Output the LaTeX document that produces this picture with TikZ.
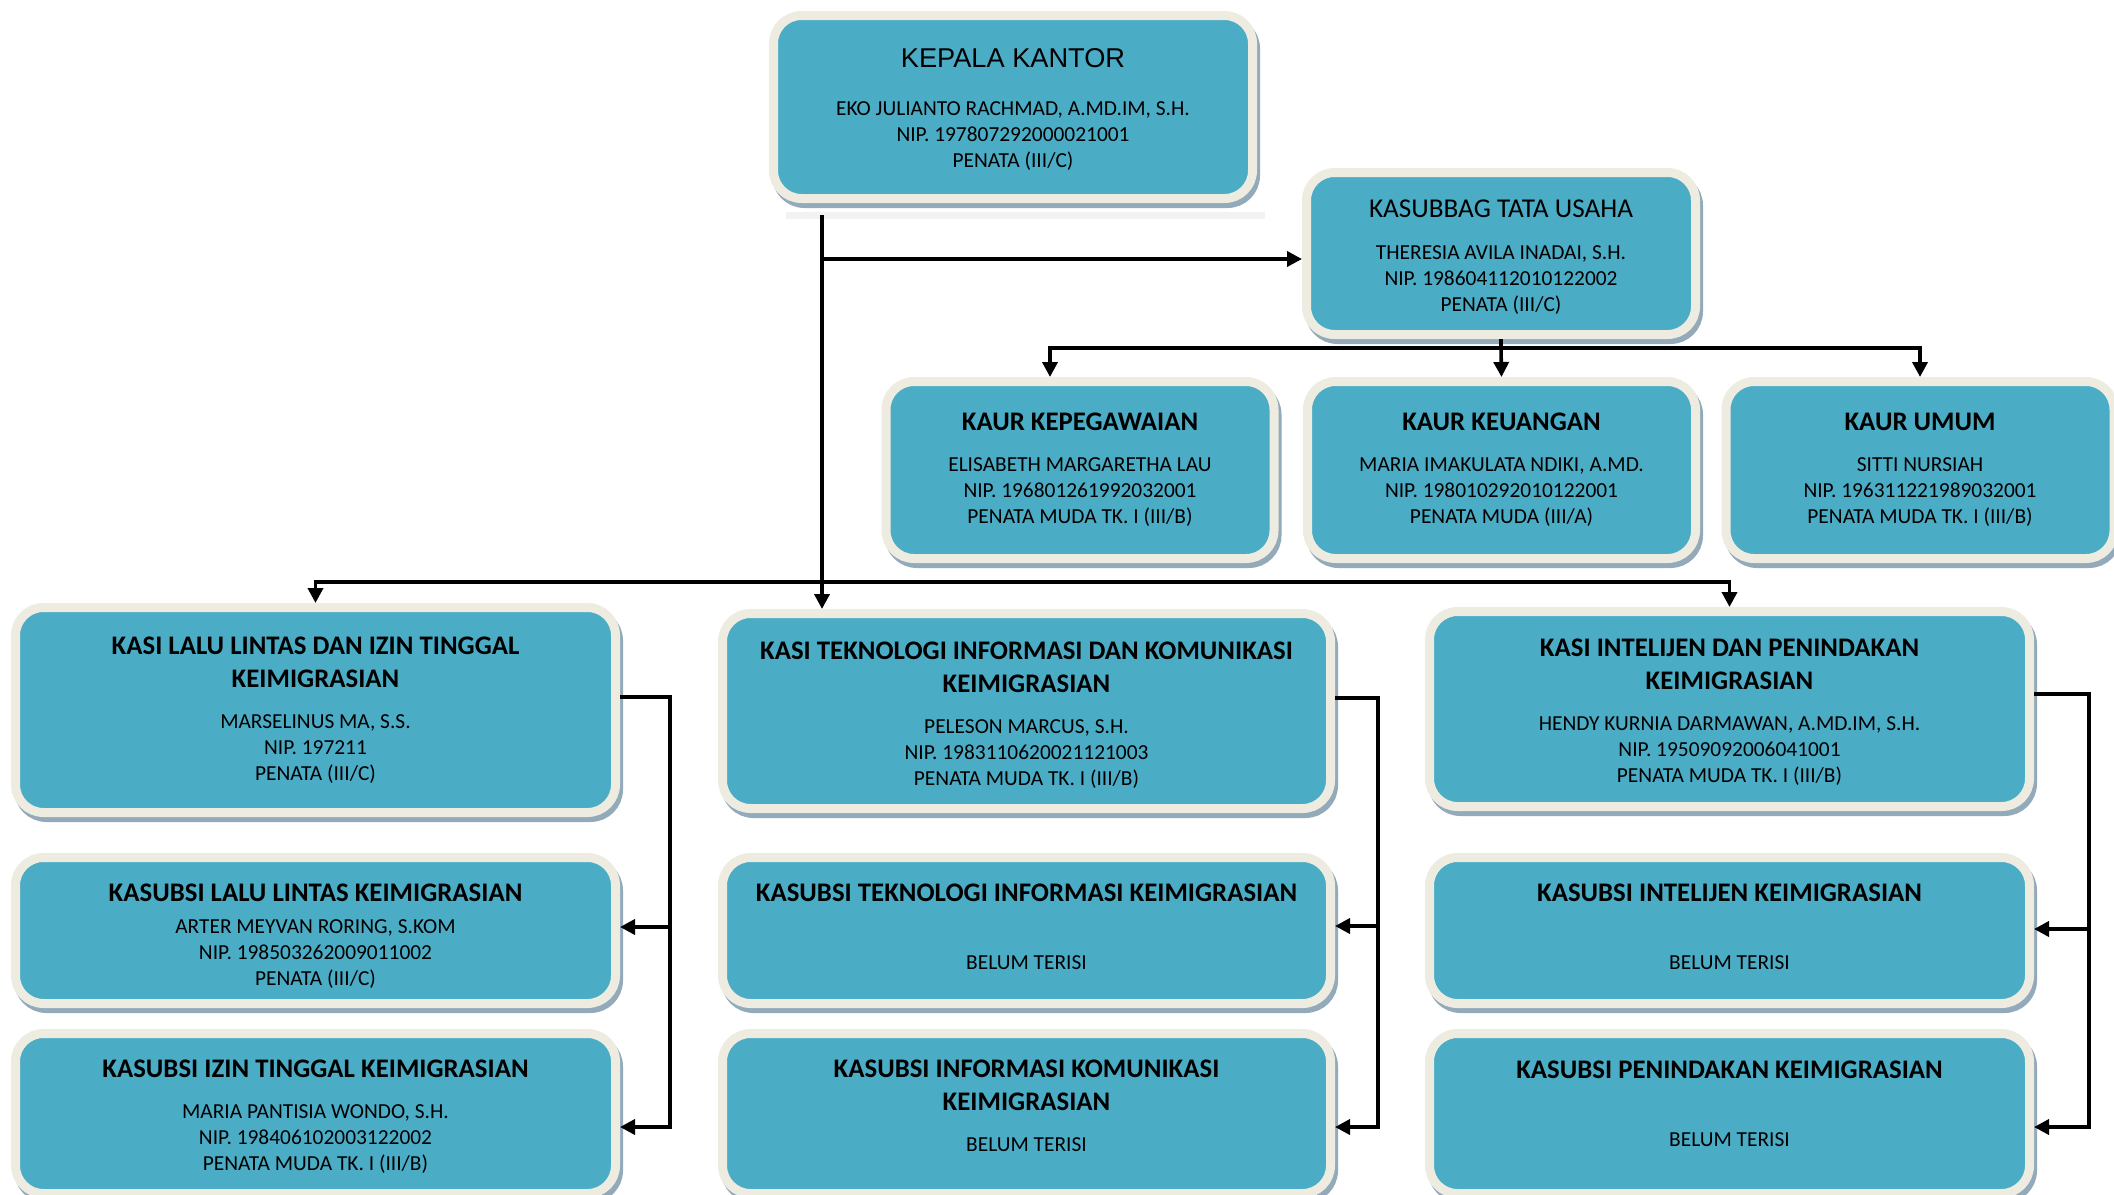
\documentclass[tikz,border=0pt]{standalone}
\usepackage{fontspec}
\setmainfont{Carlito}
\newfontfamily\headfont{Liberation Sans}
\usetikzlibrary{arrows.meta,shadows}

\definecolor{unitblue}{HTML}{4BACC6}
\definecolor{unitrim}{HTML}{EEECE1}
\definecolor{unitshade}{HTML}{93AABA}
\newcommand{\ttl}[1]{{\fontsize{13.4}{13}\selectfont\bfseries #1}}
\newcommand{\padtop}[1]{\rule{0pt}{#1}}
\newcommand{\padbot}[1]{\rule[-#1]{0pt}{#1}}

\begin{document}
\begin{tikzpicture}[x=0.5pt,y=-0.5pt]
\tikzset{unit/.style={draw=unitrim,fill=unitblue,line width=4.5pt,rounded corners=14pt,inner sep=0pt,align=center,
  font=\fontsize{10.7}{13}\selectfont,
  drop shadow={shadow xshift=1.5pt,shadow yshift=-2.5pt,opacity=1,fill=unitshade,draw=unitshade,line width=4.5pt}}}
\tikzset{kaur/.style={unit,minimum width=194pt,minimum height=88.5pt}}
\tikzset{kasi/.style={unit,minimum width=300pt,minimum height=#1}}
\tikzset{link/.style={line width=1.8pt,>={Triangle[length=7.5pt,width=7.5pt]}}}
\tikzset{ledge/.style={fill=black!5,inner sep=0pt,minimum width=239.5pt,minimum height=3.5pt}}

\useasboundingbox (0,0) rectangle (2114,1194);

\node[unit,minimum width=239.5pt,minimum height=91.5pt] (kepala) at (1013,107)
  {\padtop{12.2pt}{\headfont\fontsize{13.6}{13}\selectfont KEPALA KANTOR}\\[11pt]EKO JULIANTO RACHMAD, A.MD.IM, S.H.\\NIP. 197807292000021001\\PENATA (III/C)};
\node[ledge] (ledge) at (1025.5,215.5) {};
\node[unit,minimum width=194.5pt,minimum height=81pt] (tu) at (1501,253.5)
  {\padtop{12.8pt}{\fontsize{13.6}{13}\selectfont KASUBBAG TATA USAHA}\\[8pt]THERESIA AVILA INADAI, S.H.\\NIP. 198604112010122002\\PENATA (III/C)};

\node[kaur] (peg) at (1080,470)
  {\ttl{KAUR KEPEGAWAIAN}\\[7.5pt]ELISABETH MARGARETHA LAU\\NIP. 196801261992032001\\PENATA MUDA TK. I (III/B)};
\node[kaur] (keu) at (1501.5,470)
  {\ttl{KAUR KEUANGAN}\\[7.5pt]MARIA IMAKULATA NDIKI, A.MD.\\NIP. 198010292010122001\\PENATA MUDA (III/A)};
\node[kaur] (umum) at (1920,470)
  {\ttl{KAUR UMUM}\\[7.5pt]SITTI NURSIAH\\NIP. 196311221989032001\\PENATA MUDA TK. I (III/B)};

\node[kasi=102.5pt] (llit) at (315.5,710)
  {\ttl{KASI LALU LINTAS DAN IZIN TINGGAL}\\[3.5pt]\ttl{KEIMIGRASIAN}\\[7.5pt]MARSELINUS MA, S.S.\\NIP. 197211\\PENATA (III/C)};
\node[kasi=97.5pt,minimum width=304pt] (tik) at (1026.5,711)
  {\padtop{12.8pt}\ttl{KASI TEKNOLOGI INFORMASI DAN KOMUNIKASI}\\[3.5pt]\ttl{KEIMIGRASIAN}\\[7.5pt]PELESON MARCUS, S.H.\\NIP. 1983110620021121003\\PENATA MUDA TK. I (III/B)};
\node[kasi=97.5pt] (intel) at (1729.5,709)
  {\padtop{12.2pt}\ttl{KASI INTELIJEN DAN PENINDAKAN}\\[3.5pt]\ttl{KEIMIGRASIAN}\\[7.5pt]HENDY KURNIA DARMAWAN, A.MD.IM, S.H.\\NIP. 19509092006041001\\PENATA MUDA TK. I (III/B)};

\node[kasi=73pt] (lalin) at (315.5,930.5)
  {\padtop{14.2pt}\ttl{KASUBSI LALU LINTAS KEIMIGRASIAN}\\[3pt]ARTER MEYVAN RORING, S.KOM\\NIP. 198503262009011002\\PENATA (III/C)};
\node[kasi=73pt,minimum width=304pt] (tekinfo) at (1026.5,930.5)
  {\ttl{KASUBSI TEKNOLOGI INFORMASI KEIMIGRASIAN}\\[21pt]BELUM TERISI\padbot{4pt}};
\node[kasi=73pt] (intelsub) at (1729.5,930.5)
  {\ttl{KASUBSI INTELIJEN KEIMIGRASIAN}\\[21pt]BELUM TERISI\padbot{4pt}};

\node[kasi=80pt] (izin) at (315.5,1113.5)
  {\padtop{11.5pt}\ttl{KASUBSI IZIN TINGGAL KEIMIGRASIAN}\\[7.5pt]MARIA PANTISIA WONDO, S.H.\\NIP. 198406102003122002\\PENATA MUDA TK. I (III/B)};
\node[kasi=80pt,minimum width=304pt] (infokom) at (1026.5,1113.5)
  {\ttl{KASUBSI INFORMASI KOMUNIKASI}\\[3.5pt]\ttl{KEIMIGRASIAN}\\[7.5pt]BELUM TERISI\padbot{7.4pt}};
\node[kasi=80pt] (tindak) at (1729.5,1113.5)
  {\ttl{KASUBSI PENINDAKAN KEIMIGRASIAN}\\[21pt]BELUM TERISI\padbot{10pt}};

% garis komando
\coordinate (root) at (822,215);
\coordinate (hub) at (822,582);
\coordinate (tuin) at ([yshift=-2.75pt]tu.west);
\coordinate (pegin) at ([xshift=-15pt]peg.north);
\draw[link,->] (root) -- (root |- tik.north);
\draw[link,->] (root |- tuin) -- (tuin);
\draw[link,<->] (llit.north) |- (hub) -| (intel.north);

\draw[link] (tu.south) -- ++(0,9) coordinate (kb);
\draw[link,<->] (pegin) |- (kb) -| (umum.north);
\draw[link,->] (kb) -- (keu.north);

% garis seksi
\draw[link,->] ([yshift=6.5pt]llit.east) -| ([xshift=25pt,yshift=-6.75pt]izin.east) -- ([yshift=-6.75pt]izin.east);
\draw[link,->] ([xshift=25pt,yshift=1.75pt]lalin.east) -- ([yshift=1.75pt]lalin.east);
\draw[link,->] ([yshift=6.5pt]tik.east) -| ([xshift=21.5pt,yshift=-6.75pt]infokom.east) -- ([yshift=-6.75pt]infokom.east);
\draw[link,->] ([xshift=21.5pt,yshift=2.25pt]tekinfo.east) -- ([yshift=2.25pt]tekinfo.east);
\draw[link,->] ([yshift=7.5pt]intel.east) -| ([xshift=27.5pt,yshift=-6.75pt]tindak.east) -- ([yshift=-6.75pt]tindak.east);
\draw[link,->] ([xshift=27.5pt,yshift=0.75pt]intelsub.east) -- ([yshift=0.75pt]intelsub.east);

\end{tikzpicture}
\end{document}
